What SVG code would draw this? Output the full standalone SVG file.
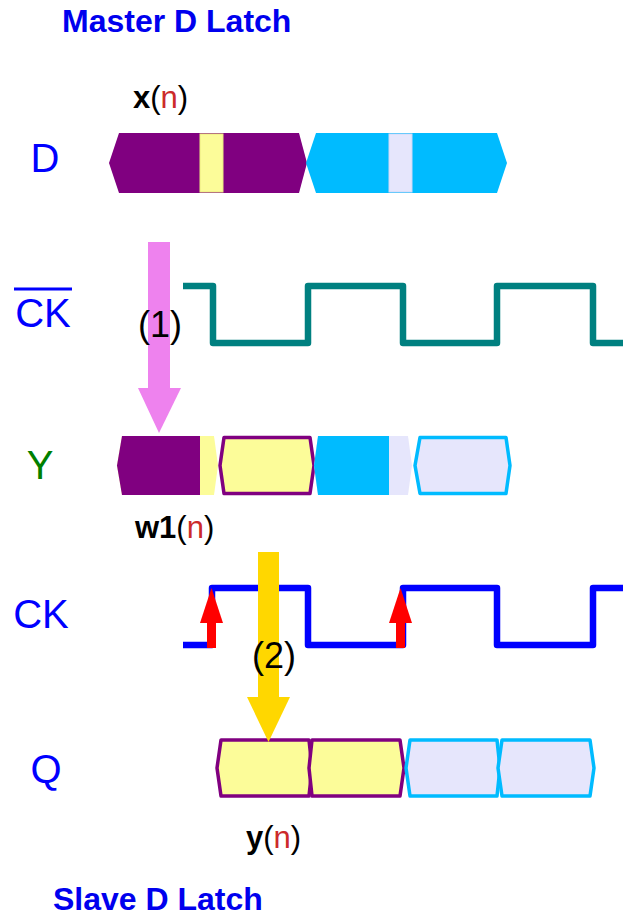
<svg xmlns="http://www.w3.org/2000/svg" width="623" height="916" viewBox="0 0 623 916">
<style>
text{font-family:"Liberation Sans",Arial,sans-serif}
.title{font-size:32px;font-weight:bold;fill:#0000ee}
.sig{font-size:40px;fill:#0000ff;text-anchor:middle}
.lbl{font-size:31px;fill:#000}
.b{font-weight:bold}
.n{fill:#cc2a2a}
.step{font-size:36px;fill:#000;text-anchor:middle}
.pur{fill:#800080}
.cya{fill:#00bbff}
.yel{fill:#fcfc99}
.lav{fill:#e6e6fc}
.ys{fill:#fcfc99;stroke:#800080;stroke-width:3.5;stroke-linejoin:round}
.ls{fill:#e6e6fc;stroke:#00bbff;stroke-width:3.5;stroke-linejoin:round}
.wave{fill:none;stroke-width:6.5;stroke-linejoin:round}
</style>
<rect width="623" height="916" fill="#fff"/>
<text class="title" x="62" y="32">Master D Latch</text>
<text class="title" x="53" y="910">Slave D Latch</text>

<g id="label-D"><text class="sig" x="45" y="172">D</text></g>
<g id="label-CKbar"><text class="sig" x="43" y="327">CK</text><line x1="14" y1="289" x2="72" y2="289" stroke="#0000ff" stroke-width="3"/></g>
<g id="label-Y"><text class="sig" x="40" y="479" style="fill:#008000">Y</text></g>
<g id="label-CK"><text class="sig" x="41" y="628">CK</text></g>
<g id="label-Q"><text class="sig" x="46" y="783">Q</text></g>

<g id="label-xn"><text class="lbl" x="133" y="108"><tspan class="b">x</tspan>(<tspan class="n">n</tspan>)</text></g>
<g id="label-w1n"><text class="lbl" x="135" y="538"><tspan class="b">w1</tspan>(<tspan class="n">n</tspan>)</text></g>
<g id="label-yn"><text class="lbl" x="246" y="848"><tspan class="b">y</tspan>(<tspan class="n">n</tspan>)</text></g>

<g id="D-row">
<polygon class="pur" points="109,163 119,133 299,133 307,163 299,193 119,193"/>
<rect class="yel" x="200" y="134" width="23" height="58" stroke="#eaea80" stroke-width="1"/>
<polygon class="cya" points="306,163 316,133 497,133 507,163 497,193 316,193"/>
<rect class="lav" x="389" y="134" width="23" height="58" stroke="#cfd8f8" stroke-width="1"/>
</g>

<g id="CKbar-wave"><path class="wave" stroke="#008080" d="M183,286 H213 V343 H308 V286 H403 V343 H497 V286 H593 V343 H623"/></g>

<g id="Y-row">
<polygon class="yel" points="117,465.5 122,436 214,436 218,465.5 214,495 122,495"/>
<polygon class="pur" points="117,465.5 122,436 200,436 200,495 122,495"/>
<polygon class="ys" points="220,465.5 224,437.5 310,437.5 314,465.5 310,493.5 224,493.5"/>
<polygon class="lav" points="314,465.5 318,436 408,436 412,465.5 408,495 318,495"/>
<polygon class="cya" points="314,465.5 318,436 389,436 389,495 318,495"/>
<polygon class="ls" points="415,465.5 420,437.5 506,437.5 510,465.5 506,493.5 420,493.5"/>
</g>

<g id="CK-wave"><path class="wave" stroke="#0000ff" stroke-width="7" d="M183,645 H212 V588 H308 V645 H403 V588 H497 V645 H593 V588 H623"/></g>

<g id="Q-row">
<polygon class="ys" points="217,768 221,740 309,740 312,768 309,796 221,796"/>
<polygon class="ys" points="309,768 312,740 400,740 404,768 400,796 312,796"/>
<polygon class="ls" points="406,768 410,740 497,740 500,768 497,796 410,796"/>
<polygon class="ls" points="498,768 502,740 590,740 594,768 590,796 502,796"/>
</g>

<g id="connectors">
<g id="arrow1" fill="#ee82ee">
<rect x="148" y="242" width="22" height="147"/>
<polygon points="138,388 181,388 159,433"/>
</g>
<g id="edge-arrow-1" fill="#ff0000">
<rect x="207" y="615" width="9" height="33"/>
<polygon points="200,623 223,623 211.5,588"/>
</g>
<g id="edge-arrow-2" fill="#ff0000">
<rect x="396" y="615" width="9" height="33"/>
<polygon points="389,623 412,623 400.5,588"/>
</g>
<g id="arrow2" fill="#ffd700">
<rect x="258" y="552" width="21" height="146"/>
<polygon points="247,697 290,697 268.5,742"/>
</g>
</g>
<text class="step" x="160" y="337">(1)</text>
<text class="step" x="274" y="668">(2)</text>
</svg>
